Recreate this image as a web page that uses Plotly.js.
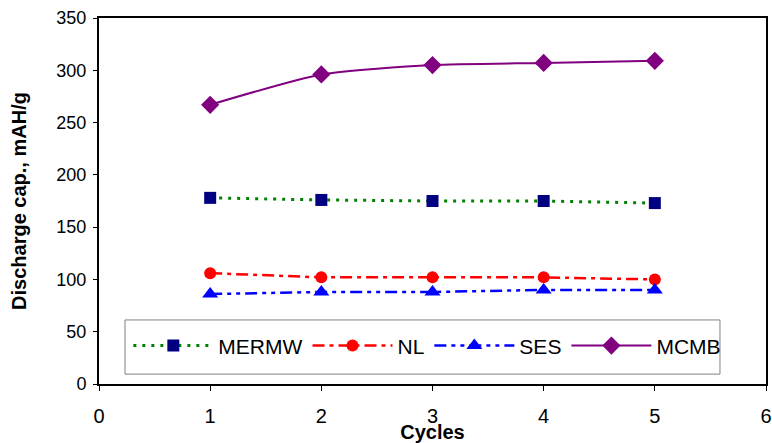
<!DOCTYPE html>
<html>
<head>
<meta charset="utf-8">
<script src="https://cdn.plot.ly/plotly-3.0.1.min.js"></script>
<style>html,body{margin:0;padding:0;background:#fff;}#chart{width:772px;height:443px;}</style>
</head>
<body>
<div id="chart"></div>
<script>
const cycles = [1, 2, 3, 4, 5];
const mermw = [178, 176, 175, 175, 173];
const nl = [106, 102, 102, 102, 100];
const ses = [86, 88, 88, 90, 90];
const mcmb = [267, 296, 305, 307, 309];
const xTicks = [0, 1, 2, 3, 4, 5, 6];
const yTicks = [0, 50, 100, 150, 200, 250, 300, 350];

const NARROW = '"Liberation Sans Narrow", "Arial Narrow", "Liberation Sans", Arial, sans-serif';
const SANS = '"Liberation Sans", Arial, sans-serif';

const traces = [
  {x: cycles, y: mermw, name: 'MERMW', mode: 'lines+markers',
   line: {color: '#008000', width: 3, dash: '3px,6px'},
   marker: {symbol: 'square', size: 12, color: '#000080'}},
  {x: cycles, y: nl, name: 'NL', mode: 'lines+markers',
   line: {color: '#ff0000', width: 2.5, dash: '12px,5px,4px,5px'},
   marker: {symbol: 'circle', size: 12, color: '#ff0000'}},
  {x: cycles, y: ses, name: 'SES', mode: 'lines+markers',
   line: {color: '#0000ff', width: 2.5, dash: '12px,5px,4px,5px,4px,5px'},
   marker: {symbol: 'triangle-up', size: 14, color: '#0000ff'}},
  {x: cycles, y: mcmb, name: 'MCMB', mode: 'lines+markers',
   line: {color: '#800080', width: 2, shape: 'spline', smoothing: 0.6},
   marker: {symbol: 'diamond', size: 14, color: '#800080'}}
];

const layout = {
  width: 772, height: 443,
  margin: {l: 99, r: 6, t: 18, b: 59},
  paper_bgcolor: '#fff', plot_bgcolor: '#fff',
  font: {family: SANS, color: '#000', size: 18},
  showlegend: true,
  legend: {
    orientation: 'h', x: 0.044, y: 0.104, xanchor: 'left', yanchor: 'middle',
    borderwidth: 0, bgcolor: 'rgba(0,0,0,0)',
    font: {family: NARROW, size: 21, color: '#000'},
    itemwidth: 80, tracegroupgap: 0
  },
  shapes: [
    {type: 'rect', xref: 'paper', yref: 'paper', x0: 0.039, x1: 0.931, y0: 0.027, y1: 0.175,
     line: {color: '#808080', width: 1}, fillcolor: '#fff', layer: 'below'}
  ],
  xaxis: {
    range: [0, 6], tickvals: xTicks, ticktext: xTicks.map(String),
    showgrid: false, zeroline: false, showline: true, linecolor: '#000', linewidth: 2,
    mirror: true, ticks: 'outside', ticklen: 5, tickcolor: '#000',
    ticklabelstandoff: 8,
    tickfont: {size: 20, family: NARROW},
    title: {text: '<b>Cycles</b>', standoff: 0, font: {size: 20, family: NARROW}}
  },
  yaxis: {
    range: [0, 350], tickvals: yTicks, ticktext: yTicks.map(String),
    showgrid: false, zeroline: false, showline: true, linecolor: '#000', linewidth: 2,
    mirror: true, ticks: 'outside', ticklen: 4, tickcolor: '#000',
    ticklabelstandoff: 3,
    tickfont: {size: 18, family: SANS},
    title: {text: '<b>Discharge cap., mAH/g</b>', standoff: 24, font: {size: 20, family: SANS}}
  }
};

Plotly.newPlot('chart', traces, layout, {displayModeBar: false, staticPlot: true});
</script>
</body>
</html>
